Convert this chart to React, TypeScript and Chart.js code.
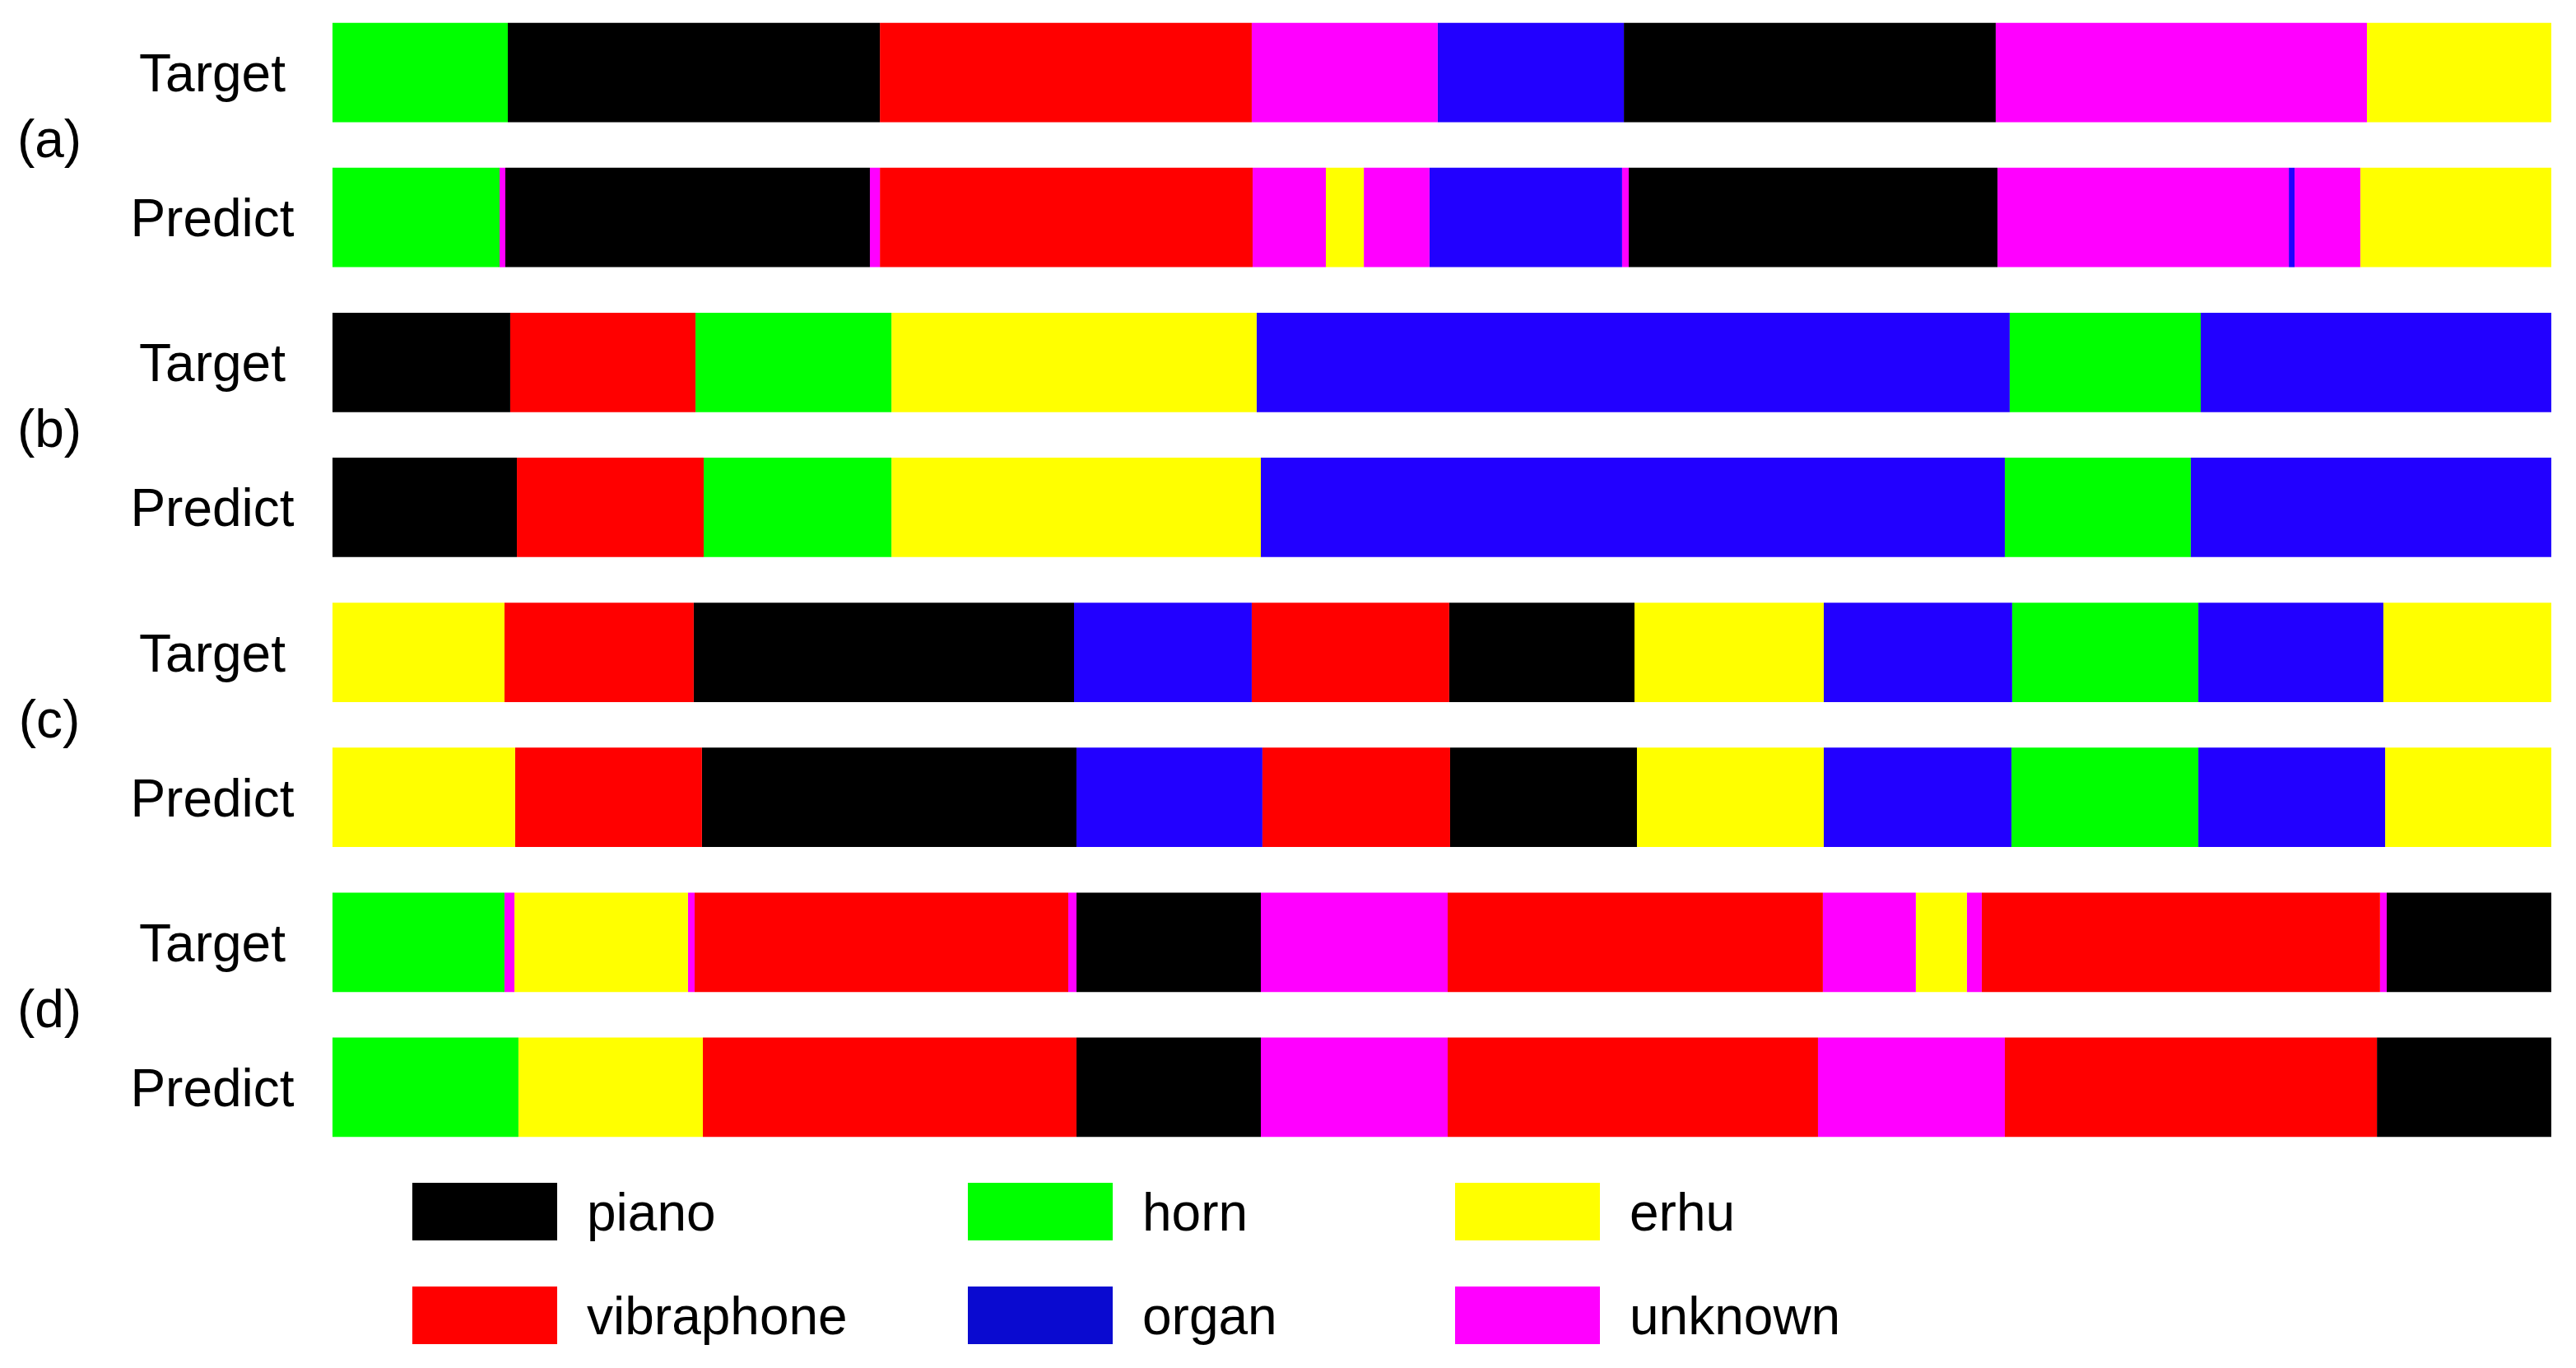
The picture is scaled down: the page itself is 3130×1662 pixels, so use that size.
import React, { useEffect, useRef } from 'react';
import { Chart, registerables } from 'chart.js';

Chart.register(...registerables);

// ---------- data ----------
const instruments = ['piano', 'horn', 'erhu', 'vibraphone', 'organ', 'unknown'];
const barColors = ['#000000', '#00FF00', '#FFFF00', '#FF0000', '#2200FF', '#FF00FF'];
const legendColors = ['#000000', '#00FF00', '#FFFF00', '#FF0000', '#0A0AD0', '#FF00FF'];

const rowLabels = ['Target', 'Predict', 'Target', 'Predict', 'Target', 'Predict', 'Target', 'Predict'];
const groupLabels = ['(a)', '(b)', '(c)', '(d)'];

// segment boundaries, in percent of the clip duration
const aTargetEdges = [0, 7.9, 24.67, 41.43, 49.81, 58.2, 74.96, 91.69, 100];
const aTargetClasses = ['horn', 'piano', 'vibraphone', 'unknown', 'organ', 'piano', 'unknown', 'erhu'];

const aPredictEdges = [0, 7.53, 7.79, 24.22, 24.67, 41.47, 44.77, 46.48, 49.44, 58.12, 58.42, 75.04, 88.17, 88.43, 91.39, 100];
const aPredictClasses = ['horn', 'unknown', 'piano', 'unknown', 'vibraphone', 'unknown', 'erhu', 'unknown', 'organ', 'unknown', 'piano', 'unknown', 'organ', 'unknown', 'erhu'];

const bTargetEdges = [0, 8.01, 16.36, 25.19, 41.65, 75.59, 84.2, 100];
const bTargetClasses = ['piano', 'vibraphone', 'horn', 'erhu', 'organ', 'horn', 'organ'];

const bPredictEdges = [0, 8.31, 16.73, 25.19, 41.84, 75.37, 83.75, 100];
const bPredictClasses = ['piano', 'vibraphone', 'horn', 'erhu', 'organ', 'horn', 'organ'];

const cTargetEdges = [0, 7.75, 16.28, 33.42, 41.43, 50.33, 58.68, 67.21, 75.7, 84.09, 92.43, 100];
const cTargetClasses = ['erhu', 'vibraphone', 'piano', 'organ', 'vibraphone', 'piano', 'erhu', 'organ', 'horn', 'organ', 'erhu'];

const cPredictEdges = [0, 8.23, 16.65, 33.53, 41.91, 50.37, 58.79, 67.21, 75.67, 84.09, 92.51, 100];
const cPredictClasses = ['erhu', 'vibraphone', 'piano', 'organ', 'vibraphone', 'piano', 'erhu', 'organ', 'horn', 'organ', 'erhu'];

const dTargetEdges = [0, 7.75, 8.2, 16.02, 16.32, 33.16, 33.53, 41.84, 50.26, 67.17, 71.36, 73.66, 74.33, 92.28, 92.58, 100];
const dTargetClasses = ['horn', 'unknown', 'erhu', 'unknown', 'vibraphone', 'unknown', 'piano', 'unknown', 'vibraphone', 'unknown', 'erhu', 'unknown', 'vibraphone', 'unknown', 'piano'];

const dPredictEdges = [0, 8.38, 16.69, 33.53, 41.84, 50.26, 66.95, 75.37, 92.14, 100];
const dPredictClasses = ['horn', 'erhu', 'vibraphone', 'piano', 'unknown', 'vibraphone', 'unknown', 'vibraphone', 'piano'];

const rowEdges = [aTargetEdges, aPredictEdges, bTargetEdges, bPredictEdges, cTargetEdges, cPredictEdges, dTargetEdges, dPredictEdges];
const rowClasses = [aTargetClasses, aPredictClasses, bTargetClasses, bPredictClasses, cTargetClasses, cPredictClasses, dTargetClasses, dPredictClasses];

const FONT = '"Liberation Sans", Arial, Helvetica, sans-serif';

function colorOf(name: string) {
  return barColors[instruments.indexOf(name)];
}

export default function App() {
  const ref = useRef<HTMLCanvasElement | null>(null);

  useEffect(() => {
    document.body.style.margin = '0';
    document.body.style.overflow = 'hidden';
    const canvas = ref.current;
    if (!canvas) return;

    const maxSeg = Math.max(...rowClasses.map((c) => c.length));
    const datasets = [] as any[];
    for (let k = 0; k < maxSeg; k++) {
      datasets.push({
        label: 'segment ' + (k + 1),
        data: rowEdges.map((e, r) => (k < rowClasses[r].length ? [e[k], e[k + 1]] : null)),
        backgroundColor: rowClasses.map((c) => (k < c.length ? colorOf(c[k]) : 'rgba(0,0,0,0)')),
        borderWidth: 0,
        grouped: false,
        barPercentage: 0.686,
        categoryPercentage: 1,
      });
    }

    const labelPlugin = {
      id: 'labels',
      afterDraw(chart: any) {
        const ctx = chart.ctx;
        const y = chart.scales.y;
        ctx.save();
        ctx.fillStyle = '#000';
        ctx.font = `64px ${FONT}`;
        ctx.textAlign = 'center';
        ctx.textBaseline = 'alphabetic';
        rowLabels.forEach((lab, i) => {
          const py = y.getPixelForTick(i);
          ctx.fillText(lab, 258, py + 23);
        });
        groupLabels.forEach((lab, g) => {
          const p1 = y.getPixelForTick(2 * g);
          const p2 = y.getPixelForTick(2 * g + 1);
          ctx.fillText(lab, 60, (p1 + p2) / 2 + 15);
        });
        // legend: 3 columns x 2 rows
        const colX = [501, 1176, 1768];
        const rowY = [1437, 1563];
        ctx.textAlign = 'left';
        instruments.forEach((name, i) => {
          const cx = colX[i % 3];
          const ry = rowY[Math.floor(i / 3)];
          ctx.fillStyle = legendColors[i];
          ctx.fillRect(cx, ry, 176, 70);
          ctx.fillStyle = '#000';
          ctx.fillText(name, cx + 212, ry + 35 + 23);
        });
        ctx.restore();
      },
    };

    const chart = new Chart(canvas, {
      type: 'bar',
      data: { labels: rowLabels.map((l, i) => l + ' ' + i), datasets },
      options: {
        indexAxis: 'y',
        responsive: false,
        animation: false,
        devicePixelRatio: 1,
        layout: { padding: { left: 404, right: 30, top: 0, bottom: 253 } },
        scales: {
          x: { type: 'linear', min: 0, max: 100, display: false },
          y: { type: 'category', display: false, offset: true },
        },
        plugins: {
          legend: { display: false },
          tooltip: { enabled: false },
        },
      },
      plugins: [labelPlugin],
    } as any);

    return () => chart.destroy();
  }, []);

  return (
    <div style={{ position: 'absolute', left: 0, top: 0, width: 3130, height: 1662, background: '#fff' }}>
      <canvas ref={ref} width={3130} height={1662} style={{ display: 'block', width: 3130, height: 1662 }} />
    </div>
  );
}
